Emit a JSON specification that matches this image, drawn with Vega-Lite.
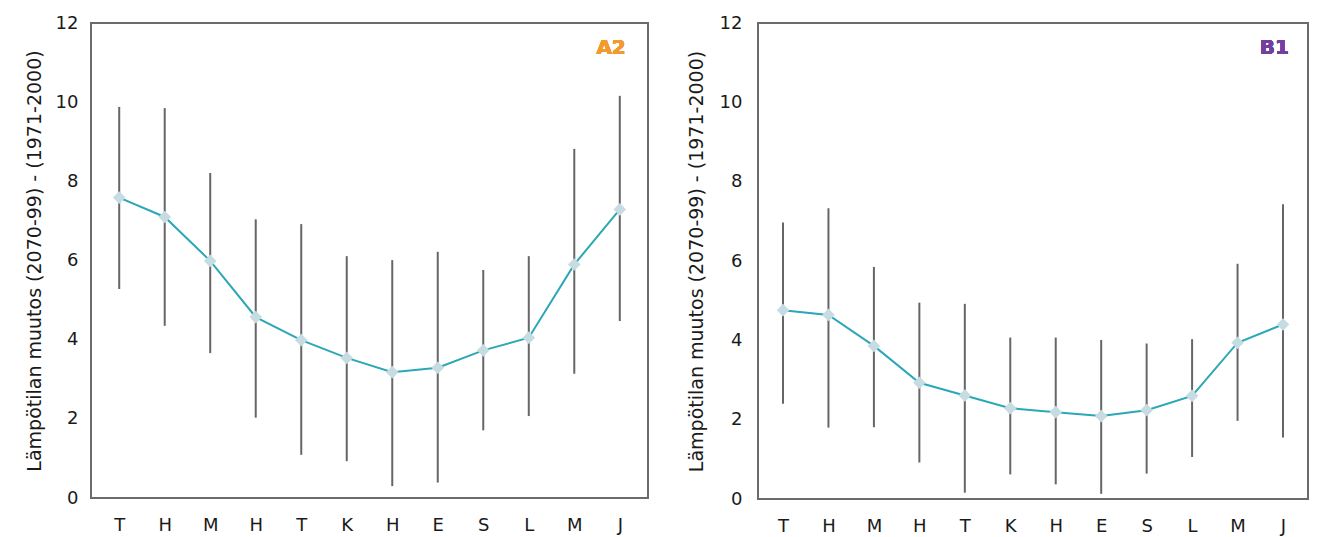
{
  "$schema": "https://vega.github.io/schema/vega-lite/v6.json",
  "background": "white",
  "padding": {"left": 24, "top": 13, "right": 10, "bottom": 5},
  "spacing": 37,
  "config": {
    "font": "DejaVu Sans",
    "view": {"stroke": "#6b6b6b", "strokeWidth": 2},
    "axis": {"grid": false, "domain": false, "ticks": false, "labelFontSize": 18, "labelColor": "#1a1a1a", "titleFontSize": 19, "titleFontWeight": "normal", "titleColor": "#1a1a1a"}
  },
  "datasets": {
    "a2": [
      {"m": 1, "mean": 7.59, "lo": 5.28, "hi": 9.88},
      {"m": 2, "mean": 7.10, "lo": 4.35, "hi": 9.85},
      {"m": 3, "mean": 5.99, "lo": 3.66, "hi": 8.21},
      {"m": 4, "mean": 4.57, "lo": 2.03, "hi": 7.04},
      {"m": 5, "mean": 3.99, "lo": 1.09, "hi": 6.92},
      {"m": 6, "mean": 3.54, "lo": 0.93, "hi": 6.11},
      {"m": 7, "mean": 3.18, "lo": 0.30, "hi": 6.01},
      {"m": 8, "mean": 3.29, "lo": 0.39, "hi": 6.22},
      {"m": 9, "mean": 3.73, "lo": 1.71, "hi": 5.76},
      {"m": 10, "mean": 4.05, "lo": 2.07, "hi": 6.11},
      {"m": 11, "mean": 5.90, "lo": 3.14, "hi": 8.82},
      {"m": 12, "mean": 7.29, "lo": 4.47, "hi": 10.16}
    ],
    "b1": [
      {"m": 1, "mean": 4.76, "lo": 2.40, "hi": 6.97},
      {"m": 2, "mean": 4.64, "lo": 1.80, "hi": 7.33},
      {"m": 3, "mean": 3.86, "lo": 1.81, "hi": 5.85},
      {"m": 4, "mean": 2.93, "lo": 0.92, "hi": 4.95},
      {"m": 5, "mean": 2.61, "lo": 0.16, "hi": 4.92},
      {"m": 6, "mean": 2.29, "lo": 0.62, "hi": 4.07},
      {"m": 7, "mean": 2.19, "lo": 0.37, "hi": 4.07},
      {"m": 8, "mean": 2.09, "lo": 0.13, "hi": 4.01},
      {"m": 9, "mean": 2.24, "lo": 0.64, "hi": 3.92},
      {"m": 10, "mean": 2.60, "lo": 1.06, "hi": 4.03},
      {"m": 11, "mean": 3.94, "lo": 1.97, "hi": 5.93},
      {"m": 12, "mean": 4.40, "lo": 1.55, "hi": 7.43}
    ]
  },
  "hconcat": [
    {
      "width": 557,
      "height": 475,
      "data": {"name": "a2"},
      "encoding": {
        "x": {"field": "m", "type": "ordinal", "scale": {"type": "point", "padding": 0.62},
          "axis": {"title": null, "labelAngle": 0, "labelPadding": 18, "labelExpr": "['T','H','M','H','T','K','H','E','S','L','M','J'][datum.value-1]"}}
      },
      "layer": [
        {"mark": {"type": "rule", "color": "#666666", "strokeWidth": 2},
          "encoding": {"y": {"field": "lo", "type": "quantitative", "scale": {"domain": [0, 12]},
            "axis": {"title": "Lämpötilan muutos (2070-99) - (1971-2000)", "values": [0, 2, 4, 6, 8, 10, 12], "labelPadding": 13, "titlePadding": 11}},
            "y2": {"field": "hi"}}},
        {"mark": {"type": "line", "color": "#2ba7b7", "strokeWidth": 2},
          "encoding": {"y": {"field": "mean", "type": "quantitative"}}},
        {"mark": {"type": "point", "shape": "diamond", "filled": true, "size": 160, "color": "#c6dce2", "opacity": 1},
          "encoding": {"y": {"field": "mean", "type": "quantitative"}}},
        {"mark": {"type": "text", "text": "A2", "color": "#f39a2e", "fontSize": 20, "fontWeight": "bold", "align": "right", "baseline": "middle", "dx": 6},
          "encoding": {"x": {"datum": 12}, "y": {"datum": 11.36}}}
      ]
    },
    {
      "width": 550,
      "height": 476,
      "data": {"name": "b1"},
      "encoding": {
        "x": {"field": "m", "type": "ordinal", "scale": {"type": "point", "padding": 0.55},
          "axis": {"title": null, "labelAngle": 0, "labelPadding": 18, "labelExpr": "['T','H','M','H','T','K','H','E','S','L','M','J'][datum.value-1]"}}
      },
      "layer": [
        {"mark": {"type": "rule", "color": "#666666", "strokeWidth": 2},
          "encoding": {"y": {"field": "lo", "type": "quantitative", "scale": {"domain": [0, 12]},
            "axis": {"title": "Lämpötilan muutos (2070-99) - (1971-2000)", "values": [0, 2, 4, 6, 8, 10, 12], "labelPadding": 16, "titlePadding": 13}},
            "y2": {"field": "hi"}}},
        {"mark": {"type": "line", "color": "#2ba7b7", "strokeWidth": 2},
          "encoding": {"y": {"field": "mean", "type": "quantitative"}}},
        {"mark": {"type": "point", "shape": "diamond", "filled": true, "size": 160, "color": "#c6dce2", "opacity": 1},
          "encoding": {"y": {"field": "mean", "type": "quantitative"}}},
        {"mark": {"type": "text", "text": "B1", "color": "#7340a0", "fontSize": 20, "fontWeight": "bold", "align": "right", "baseline": "middle", "dx": 6},
          "encoding": {"x": {"datum": 12}, "y": {"datum": 11.36}}}
      ]
    }
  ]
}
